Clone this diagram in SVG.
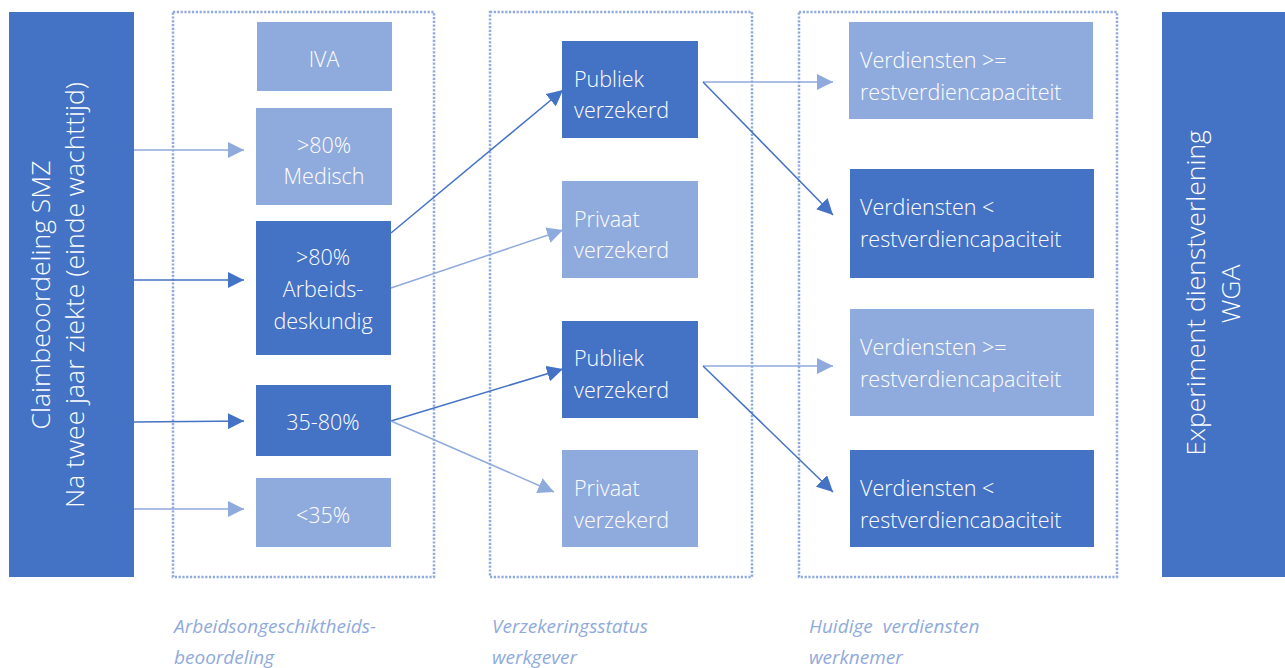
<svg xmlns="http://www.w3.org/2000/svg" width="1285" height="668" viewBox="0 0 1285 668">
<style>
.dark{fill:#4472C4}
.light{fill:#8FAADC}
.frame{fill:none;stroke:#8FAADC;stroke-width:2.5;stroke-dasharray:2.2 1.6}
.t{font-family:"Open Sans","Liberation Sans",sans-serif;font-weight:300;font-size:21.5px;fill:#FFFFFF}
.c{text-anchor:middle}
.v{font-size:26.5px}
.lab{font-family:"Open Sans","Liberation Sans",sans-serif;font-style:italic;font-size:19px;fill:#8FAADC}
.ld{stroke:#4472C4;stroke-width:1.5;fill:none}
.ll{stroke:#8FAADC;stroke-width:1.5;fill:none}
</style>
<defs>
<marker id="ad" markerUnits="userSpaceOnUse" markerWidth="16" markerHeight="16" refX="16" refY="8" orient="auto"><path d="M0,0 L16,8 L0,16 z" fill="#4472C4"/></marker>
<marker id="al" markerUnits="userSpaceOnUse" markerWidth="16" markerHeight="16" refX="16" refY="8" orient="auto"><path d="M0,0 L16,8 L0,16 z" fill="#8FAADC"/></marker>
<clipPath id="cp1"><rect x="849" y="22" width="245" height="79"/></clipPath>
<clipPath id="cp4"><rect x="850" y="450" width="245" height="78"/></clipPath>
</defs>
<rect width="1285" height="668" fill="#FFFFFF"/>

<g id="frames">
<rect class="frame" x="173" y="12" width="261" height="565"/>
<rect class="frame" x="490" y="12" width="262" height="565"/>
<rect class="frame" x="799" y="12" width="318" height="565"/>
</g>

<g id="start">
<rect class="dark" x="9" y="12" width="125" height="565"/>
<text class="t v c" transform="translate(50,295) rotate(-90)">Claimbeoordeling SMZ</text>
<text class="t v c" transform="translate(84,295) rotate(-90)">Na twee jaar ziekte (einde wachttijd)</text>
</g>

<g id="end">
<rect class="dark" x="1162" y="12" width="123" height="565"/>
<text class="t v c" transform="translate(1205,293) rotate(-90)">Experiment dienstverlening</text>
<text class="t v c" transform="translate(1240,294) rotate(-90)">WGA</text>
</g>

<g id="iva"><rect class="light" x="257" y="22" width="135" height="69"/><text class="t c" x="324" y="67">IVA</text></g>
<g id="medisch"><rect class="light" x="256" y="108" width="136" height="97"/><text class="t c" x="324" y="153">&gt;80%</text><text class="t c" x="324" y="184">Medisch</text></g>
<g id="arbeids"><rect class="dark" x="256" y="221" width="135" height="134"/><text class="t c" x="323" y="265">&gt;80%</text><text class="t c" x="323" y="297">Arbeids-</text><text class="t c" x="323" y="329">deskundig</text></g>
<g id="p3580"><rect class="dark" x="256" y="385" width="135" height="71"/><text class="t c" x="323" y="430">35-80%</text></g>
<g id="p35"><rect class="light" x="256" y="478" width="135" height="69"/><text class="t c" x="323" y="523">&lt;35%</text></g>

<g id="publiek1"><rect class="dark" x="562" y="41" width="136" height="97"/><text class="t" x="574" y="87">Publiek</text><text class="t" x="574" y="118">verzekerd</text></g>
<g id="privaat1"><rect class="light" x="562" y="181" width="136" height="97"/><text class="t" x="574" y="227">Privaat</text><text class="t" x="574" y="258">verzekerd</text></g>
<g id="publiek2"><rect class="dark" x="562" y="321" width="136" height="97"/><text class="t" x="574" y="366">Publiek</text><text class="t" x="574" y="398">verzekerd</text></g>
<g id="privaat2"><rect class="light" x="562" y="450" width="136" height="97"/><text class="t" x="574" y="496">Privaat</text><text class="t" x="574" y="528">verzekerd</text></g>

<g id="verd1"><rect class="light" x="849" y="22" width="244" height="97"/><g clip-path="url(#cp1)"><text class="t" x="860" y="68">Verdiensten &gt;=</text><text class="t" x="860" y="100">restverdiencapaciteit</text></g></g>
<g id="verd2"><rect class="dark" x="850" y="169" width="244" height="109"/><text class="t" x="860" y="215">Verdiensten &lt;</text><text class="t" x="860" y="247">restverdiencapaciteit</text></g>
<g id="verd3"><rect class="light" x="850" y="309" width="244" height="107"/><text class="t" x="860" y="355">Verdiensten &gt;=</text><text class="t" x="860" y="387">restverdiencapaciteit</text></g>
<g id="verd4"><rect class="dark" x="850" y="450" width="244" height="97"/><g clip-path="url(#cp4)"><text class="t" x="860" y="496">Verdiensten &lt;</text><text class="t" x="860" y="528">restverdiencapaciteit</text></g></g>

<g id="connectors">
<line class="ll" x1="134" y1="150" x2="244" y2="150" marker-end="url(#al)"/>
<line class="ld" x1="134" y1="280" x2="244" y2="280" marker-end="url(#ad)"/>
<line class="ld" x1="134" y1="422" x2="244" y2="421" marker-end="url(#ad)"/>
<line class="ll" x1="134" y1="509" x2="244" y2="509" marker-end="url(#al)"/>
<line class="ld" x1="391" y1="233" x2="563" y2="90" marker-end="url(#ad)"/>
<line class="ll" x1="391" y1="288" x2="563" y2="230" marker-end="url(#al)"/>
<line class="ld" x1="391" y1="421" x2="563" y2="369" marker-end="url(#ad)"/>
<line class="ll" x1="391" y1="421" x2="554" y2="492" marker-end="url(#al)"/>
<line class="ll" x1="703" y1="82" x2="833" y2="82" marker-end="url(#al)"/>
<line class="ld" x1="703" y1="82" x2="833" y2="215" marker-end="url(#ad)"/>
<line class="ll" x1="703" y1="366" x2="833" y2="366" marker-end="url(#al)"/>
<line class="ld" x1="703" y1="366" x2="833" y2="492" marker-end="url(#ad)"/>
</g>

<g id="labels">
<text class="lab" x="174" y="633">Arbeidsongeschiktheids-</text>
<text class="lab" x="174" y="664">beoordeling</text>
<text class="lab" x="492" y="633">Verzekeringsstatus</text>
<text class="lab" x="492" y="664">werkgever</text>
<text class="lab" x="809" y="633" xml:space="preserve">Huidige  verdiensten</text>
<text class="lab" x="809" y="664">werknemer</text>
</g>
</svg>
